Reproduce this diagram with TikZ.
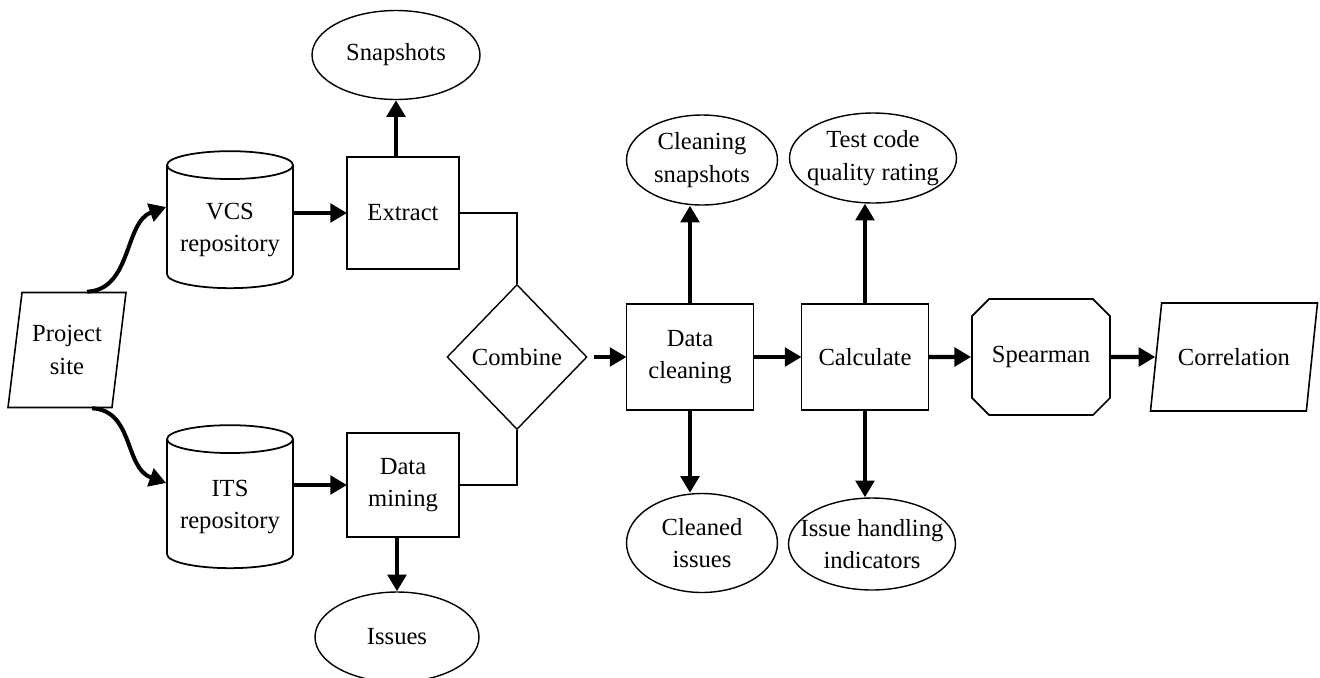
\documentclass[tikz,border=0pt]{standalone}
\usepackage{fontspec}
\setmainfont{Liberation Serif}
\usetikzlibrary{shapes.geometric,shapes.misc,arrows.meta}

\begin{document}
\begin{tikzpicture}[x=0.02cm,y=-0.02cm,
    font=\fontsize{14pt}{18.5pt}\selectfont,
    proc/.style = {rectangle,draw,line width=1pt,align=center,minimum width=2.24cm,minimum height=2.24cm,outer sep=0mm},
    store/.style = {cylinder,shape border rotate=90,aspect=0.25,draw,line width=1pt,align=center,minimum width=2.52cm,minimum height=2.74cm},
    result/.style = {ellipse,draw,line width=0.8pt,align=center,inner xsep=-0.26cm,inner ysep=0pt},
    inout/.style = {trapezium,trapezium stretches body,draw,line width=0.9pt,align=center},
    arr/.style = {-{Triangle[length=9.5pt,width=10.5pt]},line width=2.3pt},
    link/.style = {line width=0.9pt}]
\useasboundingbox (0,0) rectangle (1320,677);

% sources
\node[inout,trapezium left angle=77,trapezium right angle=103,minimum width=2.36cm,minimum height=2.3cm] (site) at (67,350) {Project\\site};
\node[store] (vcs) at (230,230) {VCS\\repository};
\node[store,minimum height=2.86cm] (its) at (230,507) {ITS\\repository};

% extraction
\node[proc] (extract) at (403,213) {Extract};
\node[proc,minimum height=2.08cm] (dmine) at (403,485) {Data\\mining};
\node[result,minimum width=3.36cm,minimum height=1.78cm] (snap) at (396,55) {Snapshots};
\node[result,minimum width=3.28cm,minimum height=1.8cm] (issues) at (397,637) {Issues};
\node[diamond,draw,line width=0.8pt,minimum width=2.8cm,minimum height=2.9cm,inner sep=0pt] (combine) at (517,357) {Combine};

% cleaning and calculation
\node[proc,minimum width=2.54cm,minimum height=2.12cm] (dclean) at (690,357) {Data\\cleaning};
\node[proc,minimum width=2.54cm,minimum height=2.12cm] (calc) at (865,357) {Calculate};
\node[result,minimum width=3.02cm,minimum height=1.8cm] (csnap) at (702,160) {Cleaning\\snapshots};
\node[result,minimum width=3.02cm,minimum height=1.98cm] (cissues) at (702,543) {Cleaned\\issues};
\node[result,minimum width=3.34cm,minimum height=1.8cm] (rating) at (873,158) {Test code\\quality rating};
\node[result,minimum width=3.34cm,minimum height=1.84cm] (indic) at (872,544) {Issue handling\\indicators};
\node[chamfered rectangle,chamfered rectangle xsep=0.17cm,chamfered rectangle ysep=0.17cm,draw,line width=1pt,minimum width=2.76cm,minimum height=2.32cm] (spear) at (1041,357) {Spearman};
\node[inout,trapezium left angle=69,trapezium right angle=111,minimum width=3.34cm,minimum height=2.16cm] (corr) at (1234,357) {Correlation};

% connectors
\draw[arr] ([xshift=0.4cm]site.north) .. controls +(45,-2) and +(-42,15) .. ([yshift=0.46cm]vcs.west);
\draw[arr] ([xshift=0.5cm]site.south) .. controls +(42,2) and +(-42,-15) .. ([yshift=0.48cm]its.west);
\draw[arr] (vcs.east |- extract) -- (extract.west);
\draw[arr] (its.east |- dmine) -- (dmine.west);
\draw[arr] (snap.south |- extract.north) -- (snap.south);
\draw[arr] (issues.north |- dmine.south) -- (issues.north);
\draw[link] (extract.east) -| (combine.north);
\draw[link] (dmine.east) -| (combine.south);
\draw[arr,shorten <=0.12cm] (combine) -- (dclean);
\foreach \a/\b in {dclean/calc, calc/spear, spear/corr}
    \draw[arr] (\a) -- (\b);
\draw[arr] (dclean.north) -- (dclean.north |- csnap.south);
\draw[arr] (dclean.south) -- (dclean.south |- cissues.north);
\draw[arr] (calc.north) -- (calc.north |- rating.south);
\draw[arr] (calc.south) -- (calc.south |- indic.north);
\end{tikzpicture}
\end{document}
